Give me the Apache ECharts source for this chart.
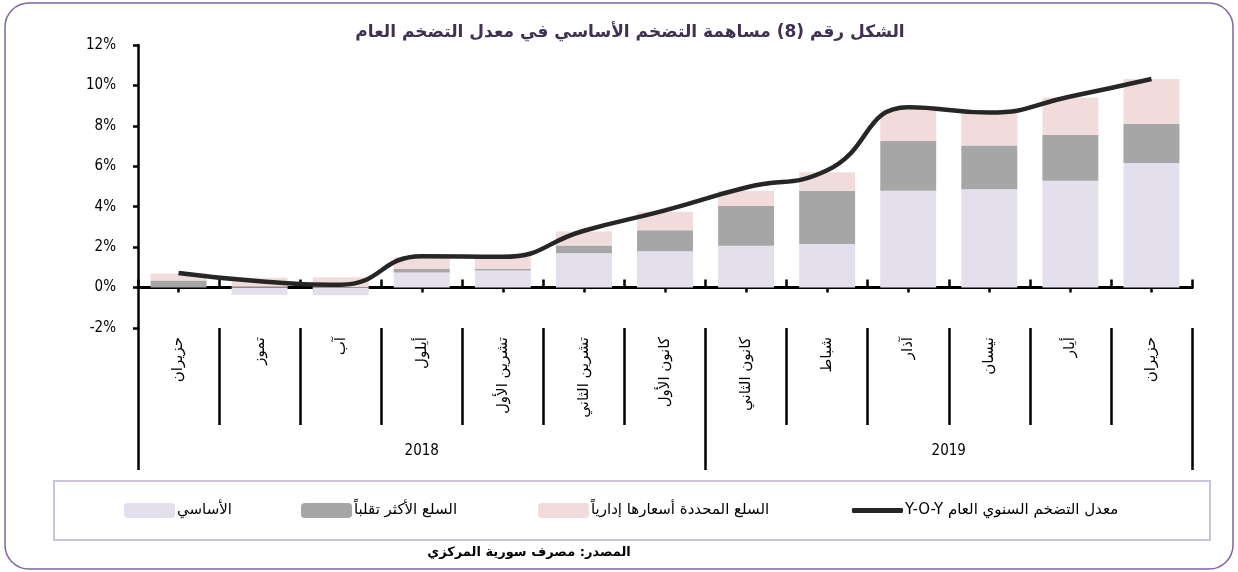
<!DOCTYPE html>
<html>
<head>
<meta charset="utf-8">
<script src="https://cdn.jsdelivr.net/npm/echarts@6/dist/echarts.min.js"></script>
<style>
  html, body { margin: 0; padding: 0; background: #fff; }
  #chart { width: 1238px; height: 572px; }
</style>
</head>
<body>
<div id="chart"></div>
<script>
// الأشهر (حزيران 2018 - حزيران 2019)
const months = ['حزيران', 'تموز', 'آب', 'أيلول', 'تشرين الأول', 'تشرين الثاني', 'كانون الأول',
  'كانون الثاني', 'شباط', 'آذار', 'نيسان', 'أيار', 'حزيران'];
const years = ['2018', '2019'];
const monthsPerYear = [7, 6];

// المساهمات (%)
const coreInflation = [0.0, -0.36, -0.38, 0.75, 0.85, 1.7, 1.8, 2.07, 2.16, 4.79, 4.87, 5.28, 6.16];
const volatileGoods = [0.35, 0.04, 0.02, 0.18, 0.08, 0.38, 1.03, 1.98, 2.63, 2.47, 2.16, 2.28, 1.94];
const administeredGoods = [0.34, 0.44, 0.49, 0.57, 0.62, 0.7, 0.92, 0.74, 0.92, 1.53, 1.63, 1.84, 2.22];
const headlineYoY = [0.72, 0.31, 0.14, 1.55, 1.52, 2.81, 3.82, 4.95, 5.8, 8.92, 8.66, 9.45, 10.32];

const yTicks = [-2, 0, 2, 4, 6, 8, 10, 12];

const names = {
  core: 'الأساسي',
  volatile: 'السلع الأكثر تقلباً',
  admin: 'السلع المحددة أسعارها إدارياً',
  yoy: 'معدل التضخم السنوي العام Y-O-Y'
};

// حدود السنوات ومواضع تسمياتها
const yearBounds = [0];
monthsPerYear.forEach(n => yearBounds.push(yearBounds[yearBounds.length - 1] + n));
const yearMids = years.map((y, i) => (yearBounds[i] + yearBounds[i + 1]) / 2);

const arabicFont = '"DejaVu Sans", sans-serif';
const narrowFont = '"Liberation Sans Narrow", "DejaVu Sans Condensed", sans-serif';

let myChart = echarts.init(document.getElementById('chart'));

const legendBase = {
  top: 498,
  itemWidth: 51,
  itemHeight: 15,
  itemGap: 4,
  selectedMode: false,
  textStyle: { fontFamily: arabicFont, fontSize: 15, color: '#000', padding: [0, 0, 0, -3] },
  formatter: n => '\u2067' + n + '\u2069'
};

myChart.setOption({
  animation: false,
  title: {
    text: 'الشكل رقم (8) مساهمة التضخم الأساسي في معدل التضخم العام',
    left: 630,
    top: 24,
    textAlign: 'center',
    padding: 0,
    textStyle: { fontFamily: arabicFont, fontSize: 17, fontWeight: 'bold', color: '#403152' }
  },
  legend: [
    Object.assign({}, legendBase, { left: 119, data: [names.core] }),
    Object.assign({}, legendBase, { left: 296, data: [names.volatile] }),
    Object.assign({}, legendBase, { left: 533, data: [names.admin] }),
    Object.assign({}, legendBase, {
      left: 847, itemHeight: 5,
      data: [{ name: names.yoy, icon: 'roundRect' }]
    })
  ],
  grid: { left: 138, right: 46, top: 45, bottom: 244, containLabel: false },
  xAxis: [
    {
      // خط الصفر مع علامات الحدود للأعلى
      type: 'category',
      data: months,
      position: 'bottom',
      axisLine: { onZero: true, onZeroAxisIndex: 0, lineStyle: { color: '#000', width: 3 } },
      axisTick: { show: true, inside: true, length: 8, interval: 0, lineStyle: { color: '#000', width: 2.5 } },
      axisLabel: { show: false }
    },
    {
      // علامات منتصف الفئات للأسفل
      type: 'category',
      data: months,
      position: 'bottom',
      axisLine: { show: true, onZero: true, onZeroAxisIndex: 1, lineStyle: { color: '#000', width: 3 } },
      axisTick: { show: true, alignWithLabel: true, length: 5, interval: 0, lineStyle: { color: '#000', width: 2.5 } },
      axisLabel: { show: false }
    },
    {
      // تسميات الأشهر والفواصل
      type: 'category',
      data: months,
      position: 'bottom',
      axisLine: { show: false, onZero: false },
      axisTick: { show: true, length: 97, interval: 0, lineStyle: { color: '#000', width: 2.5 } },
      axisLabel: {
        interval: 0, rotate: 90, margin: 9,
        fontFamily: arabicFont, fontSize: 15, color: '#000'
      }
    },
    {
      // السنوات
      type: 'value',
      min: 0,
      max: months.length,
      position: 'bottom',
      axisLine: { show: false, onZero: false },
      splitLine: { show: false },
      axisTick: { show: true, customValues: yearBounds, length: 142, lineStyle: { color: '#000', width: 2.5 } },
      axisLabel: {
        customValues: yearMids, margin: 116,
        fontFamily: narrowFont, fontSize: 15, color: '#000',
        formatter: v => years[yearMids.indexOf(v)] || ''
      }
    }
  ],
  yAxis: [
    {
      type: 'value',
      min: -2,
      max: 12,
      interval: 2,
      axisLine: { show: true, onZero: false, lineStyle: { color: '#000', width: 2.5 } },
      axisTick: { show: true, length: 5, lineStyle: { color: '#000', width: 2.5 } },
      splitLine: { show: false },
      axisLabel: {
        margin: 22, fontFamily: narrowFont, fontSize: 15, color: '#000',
        formatter: v => yTicks.includes(v) ? v + '%' : ''
      }
    },
    {
      // محور مساعد مخفي لوضع علامات المنتصف على خط الصفر
      type: 'value',
      min: -2,
      max: 12,
      interval: 2,
      show: false,
      axisLine: { onZero: false },
      splitLine: { show: false }
    }
  ],
  series: [
    {
      name: names.core, type: 'bar', stack: 'total', xAxisIndex: 0, yAxisIndex: 0,
      barWidth: '69%', data: coreInflation,
      itemStyle: { color: '#e4dfec' }, emphasis: { disabled: true }
    },
    {
      name: names.volatile, type: 'bar', stack: 'total', xAxisIndex: 0, yAxisIndex: 0,
      barWidth: '69%', data: volatileGoods,
      itemStyle: { color: '#a6a6a6' }, emphasis: { disabled: true }
    },
    {
      name: names.admin, type: 'bar', stack: 'total', xAxisIndex: 0, yAxisIndex: 0,
      barWidth: '69%', data: administeredGoods,
      itemStyle: { color: '#f2dcdb' }, emphasis: { disabled: true }
    },
    {
      name: names.yoy, type: 'line', xAxisIndex: 0, yAxisIndex: 0, data: headlineYoY,
      smooth: 0.5, symbol: 'none', z: 5,
      lineStyle: { color: '#262626', width: 4.5 },
      itemStyle: { color: '#262626' }, emphasis: { disabled: true }
    }
  ],
  graphic: [
    {
      type: 'rect', shape: { x: 5, y: 3, width: 1228, height: 566, r: 24 },
      style: { fill: 'none', stroke: '#8064a2', lineWidth: 1.5 }, silent: true
    },
    {
      type: 'rect', shape: { x: 54, y: 481, width: 1156, height: 59 },
      style: { fill: 'none', stroke: '#ccc1da', lineWidth: 2 }, silent: true
    },
    {
      type: 'text', x: 529, y: 553,
      style: {
        text: 'المصدر: مصرف سورية المركزي', align: 'center', verticalAlign: 'middle',
        font: 'bold 13px ' + arabicFont, fill: '#000'
      },
      silent: true
    }
  ]
});

window.addEventListener('resize', () => {
  myChart.resize();
});
</script>
</body>
</html>
